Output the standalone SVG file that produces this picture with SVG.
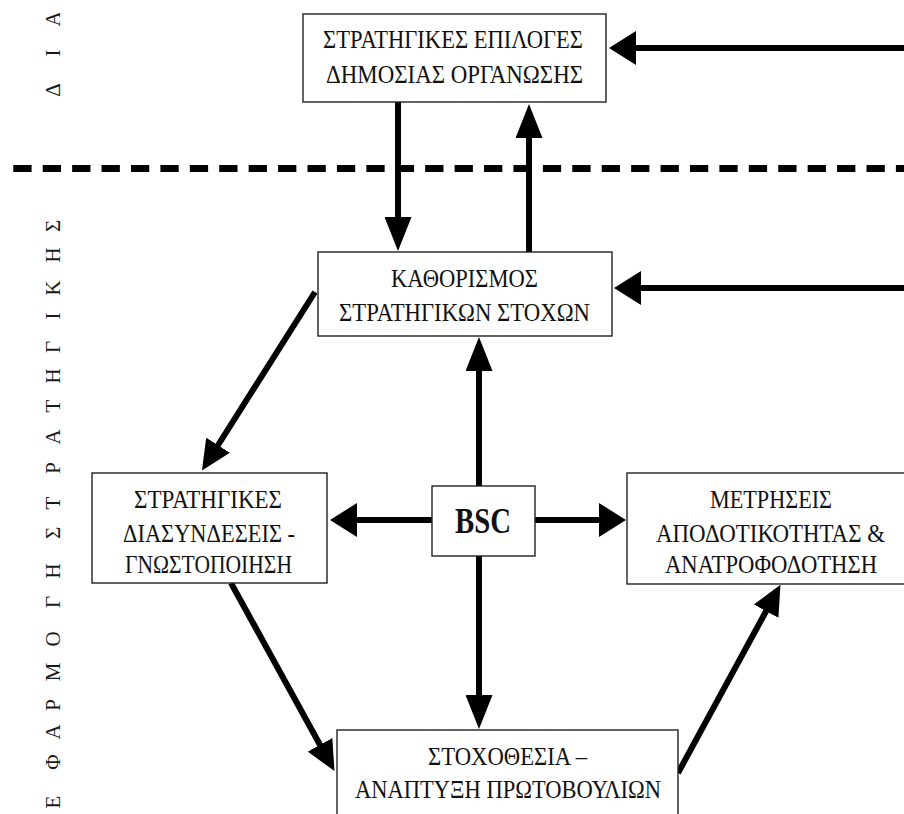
<svg xmlns="http://www.w3.org/2000/svg" width="904" height="814" viewBox="0 0 904 814">
<style>
.box{fill:#fff;stroke:#222;stroke-width:1.4}
.t{font-family:"Liberation Serif","Times New Roman",serif;font-size:22.5px;fill:#111;text-anchor:middle}
.b{font-family:"Liberation Serif","Times New Roman",serif;font-size:29px;font-weight:bold;fill:#111;text-anchor:middle}
.v{font-family:"Liberation Serif","Times New Roman",serif;font-size:21px;fill:#1a1a1a;text-anchor:middle}
.ln{stroke:#000;stroke-width:6;fill:none}
</style>
<defs>
<marker id="ahH" markerUnits="userSpaceOnUse" markerWidth="27" markerHeight="34" viewBox="0 0 27 34" refX="1" refY="17" orient="auto"><path d="M0,0 L27,17 L0,34 z" fill="#000"/></marker>
<marker id="ahV" markerUnits="userSpaceOnUse" markerWidth="34" markerHeight="27" viewBox="0 0 34 27" refX="1" refY="13.5" orient="auto"><path d="M0,0 L34,13.5 L0,27 z" fill="#000"/></marker>
<marker id="ahD" markerUnits="userSpaceOnUse" markerWidth="30" markerHeight="28" viewBox="0 0 30 28" refX="1" refY="14" orient="auto"><path d="M0,0 L30,14 L0,28 z" fill="#000"/></marker>
<clipPath id="topclip"><rect x="0" y="13" width="120" height="140"/></clipPath>
</defs>
<rect width="904" height="814" fill="#fff"/>

<g id="side-labels">
<g clip-path="url(#topclip)">
<text class="v" transform="translate(60,90) rotate(-90)">Δ</text>
<text class="v" transform="translate(60,53) rotate(-90)">Ι</text>
<text class="v" transform="translate(60,19) rotate(-90)">Α</text>
</g>
<text class="v" transform="translate(60,802) rotate(-90)">Ε</text>
<text class="v" transform="translate(60,762) rotate(-90)">Φ</text>
<text class="v" transform="translate(60,732) rotate(-90)">Α</text>
<text class="v" transform="translate(60,705) rotate(-90)">Ρ</text>
<text class="v" transform="translate(60,672) rotate(-90)">Μ</text>
<text class="v" transform="translate(60,639) rotate(-90)">Ο</text>
<text class="v" transform="translate(60,602) rotate(-90)">Γ</text>
<text class="v" transform="translate(60,571) rotate(-90)">Η</text>
<text class="v" transform="translate(60,533) rotate(-90)">Σ</text>
<text class="v" transform="translate(60,503) rotate(-90)">Τ</text>
<text class="v" transform="translate(60,468) rotate(-90)">Ρ</text>
<text class="v" transform="translate(60,437) rotate(-90)">Α</text>
<text class="v" transform="translate(60,406) rotate(-90)">Τ</text>
<text class="v" transform="translate(60,376) rotate(-90)">Η</text>
<text class="v" transform="translate(60,347) rotate(-90)">Γ</text>
<text class="v" transform="translate(60,316) rotate(-90)">Ι</text>
<text class="v" transform="translate(60,288) rotate(-90)">Κ</text>
<text class="v" transform="translate(60,255) rotate(-90)">Η</text>
<text class="v" transform="translate(60,226) rotate(-90)">Σ</text>
</g>

<g id="divider">
<line x1="13.3" y1="168.5" x2="904" y2="168.5" stroke="#000" stroke-width="7" stroke-dasharray="18.3 11.12"/>
</g>

<g id="connectors">
<line class="ln" x1="914" y1="48" x2="635" y2="48" marker-end="url(#ahH)"/>
<line class="ln" x1="914" y1="288" x2="640" y2="288" marker-end="url(#ahH)"/>
<line class="ln" x1="398" y1="102" x2="398" y2="218" marker-end="url(#ahV)"/>
<line class="ln" x1="529" y1="252" x2="529" y2="137" marker-end="url(#ahV)"/>
<line class="ln" x1="479" y1="486" x2="479" y2="370" marker-end="url(#ahV)"/>
<line class="ln" x1="479" y1="556" x2="479" y2="696" marker-end="url(#ahV)"/>
<line class="ln" x1="432" y1="520" x2="356" y2="520" marker-end="url(#ahH)"/>
<line class="ln" x1="535" y1="520" x2="600" y2="520" marker-end="url(#ahH)"/>
<line class="ln" x1="315" y1="292" x2="217.5" y2="446" marker-end="url(#ahD)"/>
<line class="ln" x1="231" y1="583" x2="320.5" y2="745.7" marker-end="url(#ahD)"/>
<line class="ln" x1="678" y1="773" x2="766.6" y2="610.3" marker-end="url(#ahD)"/>
</g>

<g id="node-strategic-choices">
<rect class="box" x="303" y="14" width="303" height="88"/>
<text class="t" transform="translate(453,48) scale(1,1.1)" textLength="260" lengthAdjust="spacingAndGlyphs">ΣΤΡΑΤΗΓΙΚΕΣ ΕΠΙΛΟΓΕΣ</text>
<text class="t" transform="translate(454.5,83) scale(1,1.1)" textLength="257" lengthAdjust="spacingAndGlyphs">ΔΗΜΟΣΙΑΣ ΟΡΓΑΝΩΣΗΣ</text>
</g>

<g id="node-goals">
<rect class="box" x="318" y="252" width="294" height="84"/>
<text class="t" transform="translate(464.5,287) scale(1,1.12)" textLength="147" lengthAdjust="spacingAndGlyphs">ΚΑΘΟΡΙΣΜΟΣ</text>
<text class="t" transform="translate(464.5,321) scale(1,1.12)" textLength="251" lengthAdjust="spacingAndGlyphs">ΣΤΡΑΤΗΓΙΚΩΝ ΣΤΟΧΩΝ</text>
</g>

<g id="node-links">
<rect class="box" x="92" y="473" width="235" height="110"/>
<text class="t" transform="translate(208,508) scale(1,1.12)" textLength="148" lengthAdjust="spacingAndGlyphs">ΣΤΡΑΤΗΓΙΚΕΣ</text>
<text class="t" transform="translate(209,542) scale(1,1.12)" textLength="172" lengthAdjust="spacingAndGlyphs">ΔΙΑΣΥΝΔΕΣΕΙΣ -</text>
<text class="t" transform="translate(208.5,573) scale(1,1.12)" textLength="167" lengthAdjust="spacingAndGlyphs">ΓΝΩΣΤΟΠΟΙΗΣΗ</text>
</g>

<g id="node-bsc">
<rect class="box" x="432" y="486" width="103" height="70"/>
<text class="b" transform="translate(483,533) scale(1,1.2)" textLength="56" lengthAdjust="spacingAndGlyphs">BSC</text>
</g>

<g id="node-measures">
<rect class="box" x="627" y="473" width="290" height="111"/>
<text class="t" transform="translate(771,508) scale(1,1.12)" textLength="122" lengthAdjust="spacingAndGlyphs">ΜΕΤΡΗΣΕΙΣ</text>
<text class="t" transform="translate(770.5,542) scale(1,1.12)" textLength="229" lengthAdjust="spacingAndGlyphs">ΑΠΟΔΟΤΙΚΟΤΗΤΑΣ &amp;</text>
<text class="t" transform="translate(771,573) scale(1,1.12)" textLength="212" lengthAdjust="spacingAndGlyphs">ΑΝΑΤΡΟΦΟΔΟΤΗΣΗ</text>
</g>

<g id="node-targets">
<rect class="box" x="337" y="730" width="341" height="100"/>
<text class="t" transform="translate(507.5,765) scale(1,1.12)" textLength="159" lengthAdjust="spacingAndGlyphs">ΣΤΟΧΟΘΕΣΙΑ –</text>
<text class="t" transform="translate(508,798) scale(1,1.12)" textLength="306" lengthAdjust="spacingAndGlyphs">ΑΝΑΠΤΥΞΗ ΠΡΩΤΟΒΟΥΛΙΩΝ</text>
</g>
</svg>
